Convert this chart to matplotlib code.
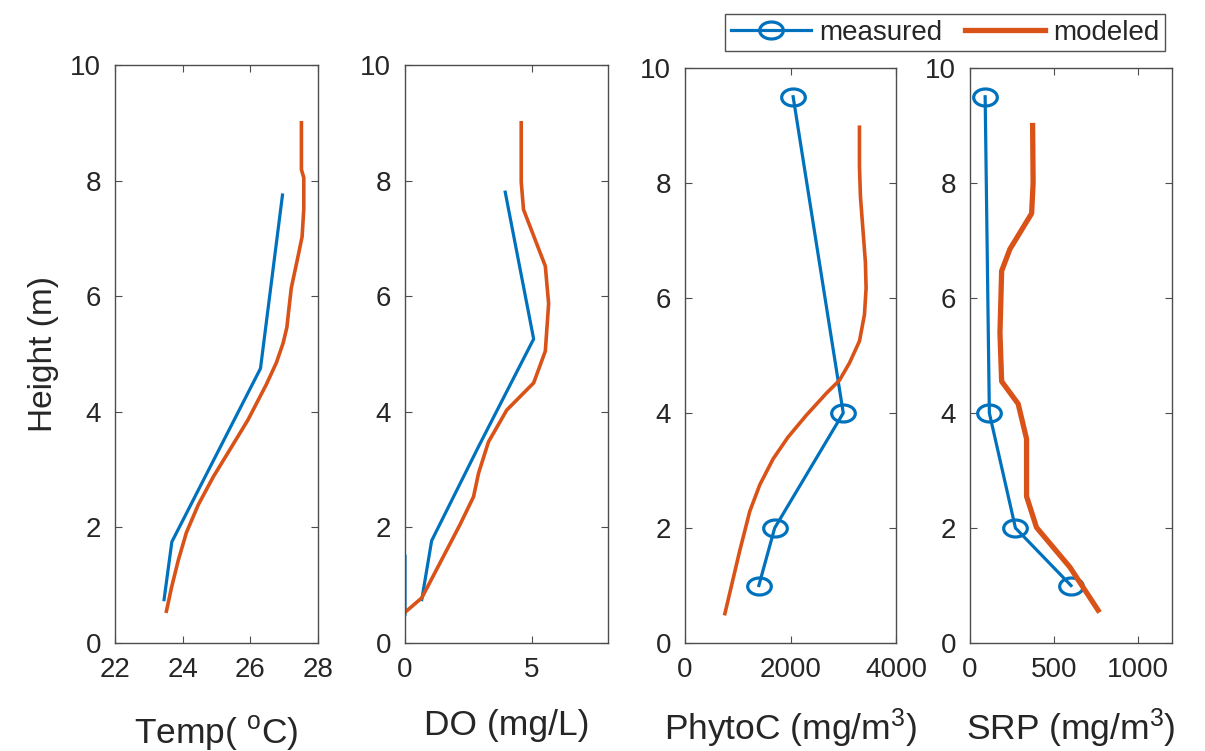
import numpy as np
import matplotlib
matplotlib.use('Agg')
import matplotlib.pyplot as plt
from matplotlib.path import Path

plt.rcParams['font.family'] = ['Liberation Sans', 'DejaVu Sans']
plt.rcParams['mathtext.default'] = 'regular'

BLUE = '#0072BD'
ORANGE = '#D95319'
TXT = '#262626'

# Temperature profile
temp_meas_x = [23.45, 23.68, 26.3, 26.95]
temp_meas_h = [0.75, 1.75, 4.75, 7.75]
temp_mod_x = [23.52, 23.67, 23.87, 24.11, 24.46, 24.9, 25.39, 25.93, 26.47, 26.77,
              26.97, 27.08, 27.13, 27.21, 27.41, 27.53, 27.58, 27.58, 27.51, 27.51]
temp_mod_h = [0.55, 0.96, 1.43, 1.91, 2.39, 2.87, 3.34, 3.86, 4.47, 4.85,
              5.19, 5.46, 5.73, 6.14, 6.69, 7.03, 7.51, 8.05, 8.19, 9.0]

# Dissolved oxygen (short piece at the left edge is clipped by the axis)
do_meas_x = [3.95, 5.07, 2.9, 1.05, 0.66, np.nan, 0.0, 0.0]
do_meas_h = [7.8, 5.26, 3.4, 1.77, 0.75, np.nan, 0.5, 1.5]
do_mod_x = [0.05, 0.66, 2.17, 2.7, 2.9, 3.29, 4.01, 5.07, 5.53, 5.66, 5.53, 4.67, 4.58, 4.58]
do_mod_h = [0.55, 0.78, 2.05, 2.53, 2.94, 3.48, 4.03, 4.5, 5.05, 5.87, 6.52, 7.5, 7.98, 9.0]

# Phytoplankton carbon
phyto_meas_x = [2050, 3000, 1700, 1400]
phyto_meas_h = [9.5, 4.0, 2.0, 1.0]
phyto_mod_x = [756, 882, 1039, 1228, 1417, 1669, 1953, 2299, 2677, 2929,
               3118, 3307, 3402, 3433, 3420, 3370, 3326, 3307, 3307]
phyto_mod_h = [0.51, 1.0, 1.61, 2.29, 2.75, 3.2, 3.58, 3.96, 4.34, 4.57,
               4.87, 5.25, 5.71, 6.17, 6.62, 7.23, 7.76, 8.29, 8.97]

# Soluble reactive phosphorus
srp_meas_x = [90, 115, 270, 600]
srp_meas_h = [9.5, 4.0, 2.0, 1.0]
srp_mod_x = [761, 593, 395, 336, 336, 286, 188, 178, 188, 237, 366, 375, 372]
srp_mod_h = [0.57, 1.32, 2.01, 2.55, 3.55, 4.16, 4.55, 5.39, 6.47, 6.85, 7.47, 8.0, 9.0]

xlabels = ['Temp( $^{o}$C)', 'DO (mg/L)', 'PhytoC (mg/m$^{3}$)', 'SRP (mg/m$^{3}$)']
xlims = [(22, 28), (0, 8), (0, 4000), (0, 1200)]
xticks = [[22, 24, 26, 28], [0, 5], [0, 2000, 4000], [0, 500, 1000]]
label_pads = [22.5, 19, 17, 17]

# squashed circle marker, like the reference
th = np.linspace(0, 2 * np.pi, 60)
oval = Path(np.column_stack([np.cos(th), 0.72 * np.sin(th)]), closed=True)

W, H = 1205, 751
fig = plt.figure(figsize=(W / 100, H / 100), dpi=100)
boxes = [(115, 318, 65), (405, 608, 65), (685, 896, 68), (970, 1172, 68)]
axes = []
for left, right, top in boxes:
    ax = fig.add_axes([left / W, (H - 643) / H, (right - left) / W, (643 - top) / H])
    axes.append(ax)

data = [
    (temp_meas_x, temp_meas_h, temp_mod_x, temp_mod_h, None, 2.6),
    (do_meas_x, do_meas_h, do_mod_x, do_mod_h, None, 2.6),
    (phyto_meas_x, phyto_meas_h, phyto_mod_x, phyto_mod_h, oval, 2.6),
    (srp_meas_x, srp_meas_h, srp_mod_x, srp_mod_h, oval, 3.8),
]

for i, ax in enumerate(axes):
    mx, mh, ox, oh, mk, olw = data[i]
    if mk is None:
        ax.plot(mx, mh, color=BLUE, lw=2.3)
    else:
        ax.plot(mx, mh, color=BLUE, lw=2.3, marker=mk, markersize=17,
                markerfacecolor='none', markeredgewidth=2.3)
    ax.plot(ox, oh, color=ORANGE, lw=olw)
    ax.set_xlim(*xlims[i])
    ax.set_ylim(0, 10)
    ax.set_xticks(xticks[i])
    ax.set_yticks([0, 2, 4, 6, 8, 10])
    ax.tick_params(direction='in', length=5, width=0.8, colors='#4d4d4d',
                   labelcolor=TXT, labelsize=20, top=True, right=True, pad=10)
    for s in ax.spines.values():
        s.set_color('#4d4d4d')
        s.set_linewidth(1.0)
    ax.set_xlabel(xlabels[i], fontsize=25.5, color=TXT, labelpad=label_pads[i])

axes[0].set_ylabel('Height (m)', fontsize=24, color=TXT, labelpad=8)

# legend handles
h1, = axes[0].plot([], [], color=BLUE, lw=2.3, marker=oval, markersize=17,
                   markerfacecolor='none', markeredgewidth=2.3, label='measured')
h2, = axes[0].plot([], [], color=ORANGE, lw=3.8, label='modeled')
leg = fig.legend(handles=[h1, h2], loc='upper left', ncol=2,
                 bbox_to_anchor=(725 / W, 1 - 14 / H), fontsize=20,
                 frameon=True, fancybox=False, edgecolor=TXT,
                 handlelength=2.9, handletextpad=0.3, columnspacing=0.8,
                 borderpad=0.2, borderaxespad=0)
leg.get_frame().set_linewidth(1.0)
for t in leg.get_texts():
    t.set_color(TXT)

fig.savefig('out.png', dpi=100)
